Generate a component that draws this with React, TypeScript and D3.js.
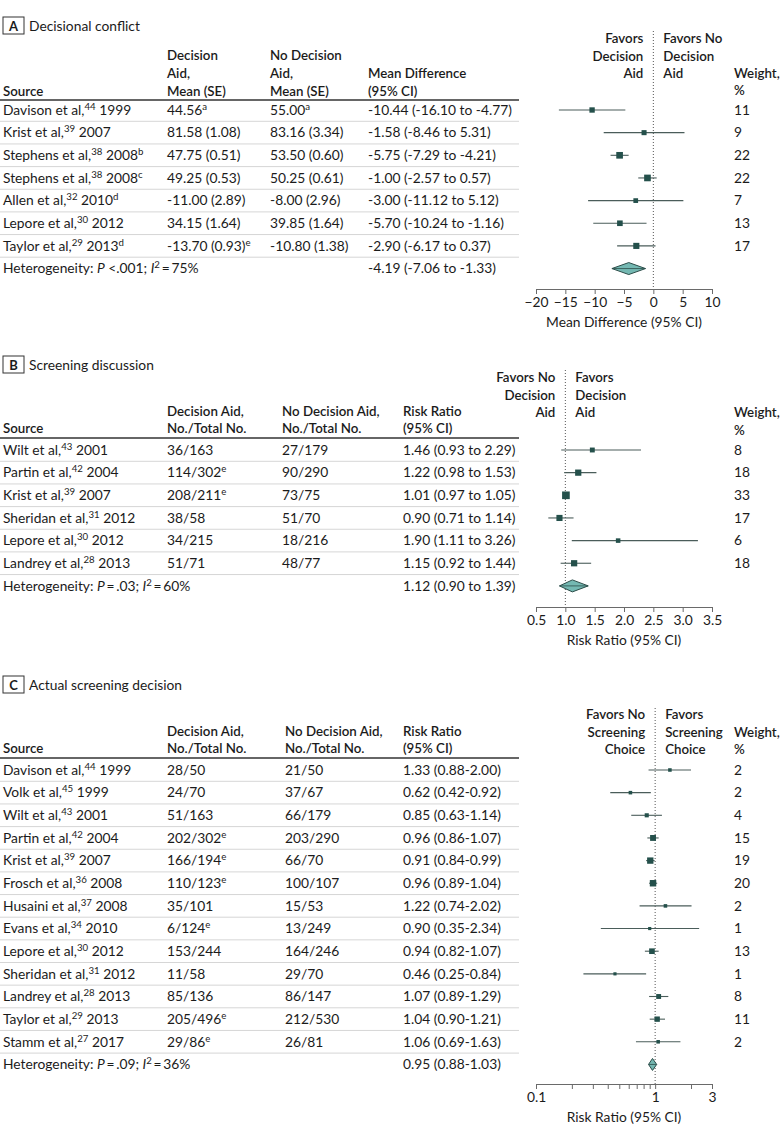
import React, { useEffect, useRef } from "react";
import * as d3 from "d3";

const FONT = "Lato, 'Open Sans', 'DejaVu Sans', sans-serif";
const FS = 13.8;
const HFS = 13.3;
const TEXT = "#1b1b1b";
const MARK = "#24504b";
const CI = "#4a5d5a";
const DIAMOND_FILL = "#74b8b2";
const DIAMOND_STROKE = "#2c4d49";

// ---------- Panel A: Decisional conflict ----------
const srcA = [
  "Davison et al,{44} 1999",
  "Krist et al,{39} 2007",
  "Stephens et al,{38} 2008{b}",
  "Stephens et al,{38} 2008{c}",
  "Allen et al,{32} 2010{d}",
  "Lepore et al,{30} 2012",
  "Taylor et al,{29} 2013{d}",
];
const aidA = ["44.56{a}", "81.58 (1.08)", "47.75 (0.51)", "49.25 (0.53)", "-11.00 (2.89)", "34.15 (1.64)", "-13.70 (0.93){e}"];
const noAidA = ["55.00{a}", "83.16 (3.34)", "53.50 (0.60)", "50.25 (0.61)", "-8.00 (2.96)", "39.85 (1.64)", "-10.80 (1.38)"];
const estA = [-10.44, -1.58, -5.75, -1.0, -3.0, -5.7, -2.9];
const loA = [-16.1, -8.46, -7.29, -2.57, -11.12, -10.24, -6.17];
const hiA = [-4.77, 5.31, -4.21, 0.57, 5.12, -1.16, 0.37];
const wA = [11, 9, 22, 22, 7, 13, 17];
const pooledA = [-4.19, -7.06, -1.33];
const hetA = "Heterogeneity: [P] <.001; [I]{2}\u2009=\u200975%";
const ticksA = [-20, -15, -10, -5, 0, 5, 10];

// ---------- Panel B: Screening discussion ----------
const srcB = [
  "Wilt et al,{43} 2001",
  "Partin et al,{42} 2004",
  "Krist et al,{39} 2007",
  "Sheridan et al,{31} 2012",
  "Lepore et al,{30} 2012",
  "Landrey et al,{28} 2013",
];
const aidB = ["36/163", "114/302{e}", "208/211{e}", "38/58", "34/215", "51/71"];
const noAidB = ["27/179", "90/290", "73/75", "51/70", "18/216", "48/77"];
const estB = [1.46, 1.22, 1.01, 0.9, 1.9, 1.15];
const loB = [0.93, 0.98, 0.97, 0.71, 1.11, 0.92];
const hiB = [2.29, 1.53, 1.05, 1.14, 3.26, 1.44];
const wB = [8, 18, 33, 17, 6, 18];
const pooledB = [1.12, 0.9, 1.39];
const hetB = "Heterogeneity: [P]\u2009=\u2009.03; [I]{2}\u2009=\u200960%";
const ticksB = [0.5, 1.0, 1.5, 2.0, 2.5, 3.0, 3.5];

// ---------- Panel C: Actual screening decision ----------
const srcC = [
  "Davison et al,{44} 1999",
  "Volk et al,{45} 1999",
  "Wilt et al,{43} 2001",
  "Partin et al,{42} 2004",
  "Krist et al,{39} 2007",
  "Frosch et al,{36} 2008",
  "Husaini et al,{37} 2008",
  "Evans et al,{34} 2010",
  "Lepore et al,{30} 2012",
  "Sheridan et al,{31} 2012",
  "Landrey et al,{28} 2013",
  "Taylor et al,{29} 2013",
  "Stamm et al,{27} 2017",
];
const aidC = ["28/50", "24/70", "51/163", "202/302{e}", "166/194{e}", "110/123{e}", "35/101", "6/124{e}", "153/244", "11/58", "85/136", "205/496{e}", "29/86{e}"];
const noAidC = ["21/50", "37/67", "66/179", "203/290", "66/70", "100/107", "15/53", "13/249", "164/246", "29/70", "86/147", "212/530", "26/81"];
const estC = [1.33, 0.62, 0.85, 0.96, 0.91, 0.96, 1.22, 0.9, 0.94, 0.46, 1.07, 1.04, 1.06];
const loC = [0.88, 0.42, 0.63, 0.86, 0.84, 0.89, 0.74, 0.35, 0.82, 0.25, 0.89, 0.9, 0.69];
const hiC = [2.0, 0.92, 1.14, 1.07, 0.99, 1.04, 2.02, 2.34, 1.07, 0.84, 1.29, 1.21, 1.63];
const wC = [2, 2, 4, 15, 19, 20, 2, 1, 13, 1, 8, 11, 2];
const pooledC = [0.95, 0.88, 1.03];
const hetC = "Heterogeneity: [P]\u2009=\u2009.09; [I]{2}\u2009=\u200936%";
const ticksC = [0.1, 1, 3];
const minorTicksC = [0.2, 0.3, 0.4, 0.5, 0.6, 0.7, 0.8, 0.9, 2];

// rich text: {sup} superscript, [ital] italic
function Rich({ s, x, y, anchor = "start", weight = 400, size = FS }: any) {
  const parts = s.split(/(\{[^}]*\}|\[[^\]]*\])/).filter((p: string) => p !== "");
  let raised = false;
  const out: any[] = [];
  parts.forEach((p: string, i: number) => {
    if (p.startsWith("{")) {
      out.push(
        <tspan key={i} fontSize={size * 0.7} dy={raised ? 0 : -5}>
          {p.slice(1, -1)}
        </tspan>
      );
      raised = true;
    } else if (p.startsWith("[")) {
      out.push(
        <tspan key={i} fontStyle="italic" dy={raised ? 5 : 0}>
          {p.slice(1, -1)}
        </tspan>
      );
      raised = false;
    } else {
      out.push(
        <tspan key={i} dy={raised ? 5 : 0}>
          {p}
        </tspan>
      );
      raised = false;
    }
  });
  return (
    <text x={x} y={y} textAnchor={anchor} fontWeight={weight} fontSize={size} fill={TEXT} style={{ whiteSpace: "pre" }}>
      {out}
    </text>
  );
}

function Axis({ scale, y, ticks, fmt, minor, title }: any) {
  const ref = useRef<SVGGElement>(null);
  const ref2 = useRef<SVGGElement>(null);
  useEffect(() => {
    const ax = d3.axisBottom(scale).tickValues(ticks).tickFormat(fmt).tickSize(5).tickPadding(3).tickSizeOuter(0);
    const g = d3.select(ref.current!);
    g.call(ax as any);
    g.selectAll("path,line").attr("stroke", "#6a6a6a");
    g.selectAll("text").attr("font-family", FONT).attr("font-size", FS).attr("fill", TEXT);
    if (minor && ref2.current) {
      const ax2 = d3.axisBottom(scale).tickValues(minor).tickFormat(() => "").tickSize(5).tickSizeOuter(0);
      const g2 = d3.select(ref2.current);
      g2.call(ax2 as any);
      g2.select("path").remove();
      g2.selectAll("line").attr("stroke", "#6a6a6a");
    }
  }, []);
  const [r0, r1] = scale.range();
  return (
    <g>
      <g ref={ref} transform={`translate(0,${y})`} />
      {minor && <g ref={ref2} transform={`translate(0,${y})`} />}
      <text x={(r0 + r1) / 2} y={y + 38} textAnchor="middle" fontSize={FS} fill={TEXT}>
        {title}
      </text>
    </g>
  );
}

function Panel(p: any) {
  const n = p.src.length;
  const yRow = d3.scaleLinear().domain([0, 1]).range([p.rowStart, p.rowStart + 22.65]);
  const size = (w: number) => 2.2 + 0.95 * Math.sqrt(w);
  const xs = p.x;
  const base = 4.8;
  const pool = p.pooled;
  const yp = yRow(n);
  return (
    <g>
      {/* title */}
      <rect x={3} y={p.titleY - 9} width={21} height={17} fill="none" stroke="#333" strokeWidth={1} />
      <text x={13.5} y={p.titleY + 4.5} textAnchor="middle" fontWeight={700} fontSize={13} fill={TEXT}>
        {p.letter}
      </text>
      <text x={29} y={p.titleY + 5} fontSize={13.8} fill={TEXT}>
        {p.title}
      </text>
      {/* header */}
      {p.headers.map((h: any, i: number) =>
        h.lines.map((l: string, j: number) => (
          <text key={`${i}-${j}`} x={h.x} y={h.ys[j] + base} textAnchor={h.anchor || "start"} fontWeight={600} fontSize={HFS} fill={TEXT}>
            {l}
          </text>
        ))
      )}
      <line x1={0} x2={519} y1={p.headerLineY} y2={p.headerLineY} stroke="#333" strokeWidth={1.6} />
      {/* separators */}
      {d3.range(n).map((i) => (
        <line key={i} x1={0} x2={519} y1={yRow(i) + 11.3} y2={yRow(i) + 11.3} stroke="#d6d6d6" strokeWidth={1} />
      ))}
      {/* rows */}
      {p.src.map((s: string, i: number) => (
        <g key={i}>
          <Rich s={s} x={3} y={yRow(i) + base} />
          <Rich s={p.aid[i]} x={p.cols[0]} y={yRow(i) + base} />
          <Rich s={p.noAid[i]} x={p.cols[1]} y={yRow(i) + base} />
          <Rich s={p.fmt(p.est[i], p.lo[i], p.hi[i])} x={p.cols[2]} y={yRow(i) + base} />
          <text x={734} y={yRow(i) + base} fontSize={FS} fill={TEXT}>
            {p.w[i]}
          </text>
        </g>
      ))}
      <Rich s={p.het} x={3} y={yp + base} />
      <Rich s={p.fmt(pool[0], pool[1], pool[2])} x={p.cols[2]} y={yp + base} />
      {/* reference line */}
      <line x1={xs(p.ref)} x2={xs(p.ref)} y1={p.refTop} y2={p.axisY} stroke="#555" strokeWidth={1} strokeDasharray="1,2" />
      {/* favors */}
      {p.favL.map((l: string, j: number) => (
        <text key={`l${j}`} x={xs(p.ref) - 10} y={p.favY[j] + base} textAnchor="end" fontWeight={600} fontSize={HFS} fill={TEXT}>
          {l}
        </text>
      ))}
      {p.favR.map((l: string, j: number) => (
        <text key={`r${j}`} x={xs(p.ref) + 10} y={p.favY[j] + base} fontWeight={600} fontSize={HFS} fill={TEXT}>
          {l}
        </text>
      ))}
      {/* CIs and markers */}
      {p.src.map((_: string, i: number) => {
        const s = size(p.w[i]);
        return (
          <g key={i}>
            <line x1={xs(p.lo[i])} x2={xs(p.hi[i])} y1={yRow(i)} y2={yRow(i)} stroke={CI} strokeWidth={1.1} />
            <rect x={xs(p.est[i]) - s / 2} y={yRow(i) - s / 2} width={s} height={s} fill={MARK} />
          </g>
        );
      })}
      {/* diamond */}
      <path
        d={`M${xs(pool[1])},${yp} L${xs(pool[0])},${yp - 6} L${xs(pool[2])},${yp} L${xs(pool[0])},${yp + 6} Z`}
        fill={DIAMOND_FILL}
        stroke={DIAMOND_STROKE}
        strokeWidth={1}
      />
      <line x1={xs(pool[1])} x2={xs(pool[2])} y1={yp} y2={yp} stroke={DIAMOND_STROKE} strokeWidth={0.8} />
      <Axis scale={xs} y={p.axisY} ticks={p.ticks} fmt={p.tickFmt} minor={p.minor} title={p.axisTitle} />
    </g>
  );
}

export default function App() {
  const xA = d3.scaleLinear().domain([-20, 10]).range([536, 712]);
  const xB = d3.scaleLinear().domain([0.5, 3.5]).range([536, 712]);
  const xC = d3.scaleLog().domain([0.1, 3]).range([536, 712]);
  const f2 = (v: number) => v.toFixed(2);
  const fmtTo = (e: number, l: number, h: number) => `${f2(e)} (${f2(l)} to ${f2(h)})`;
  const fmtDash = (e: number, l: number, h: number) => `${f2(e)} (${f2(l)}-${f2(h)})`;

  return (
    <svg
      width={780}
      height={1135}
      style={{ position: "absolute", left: 0, top: 0, background: "#fff" }}
      fontFamily={FONT}
    >
      <rect width={780} height={1135} fill="#fff" />
      <Panel
        letter="A"
        title="Decisional conflict"
        titleY={26}
        headers={[
          { x: 3, lines: ["Source"], ys: [91] },
          { x: 167, lines: ["Decision", "Aid,", "Mean (SE)"], ys: [55, 73, 91] },
          { x: 270, lines: ["No Decision", "Aid,", "Mean (SE)"], ys: [55, 73, 91] },
          { x: 368, lines: ["Mean Difference", "(95% CI)"], ys: [73, 91] },
          { x: 734, lines: ["Weight,", "%"], ys: [73, 90] },
        ]}
        headerLineY={100}
        rowStart={110}
        src={srcA}
        aid={aidA}
        noAid={noAidA}
        est={estA}
        lo={loA}
        hi={hiA}
        w={wA}
        pooled={pooledA}
        het={hetA}
        cols={[167, 270, 368]}
        fmt={fmtTo}
        x={xA}
        ref={0}
        refTop={31}
        favL={["Favors", "Decision", "Aid"]}
        favR={["Favors No", "Decision", "Aid"]}
        favY={[38, 56, 73]}
        axisY={289}
        ticks={ticksA}
        tickFmt={d3.format("d")}
        axisTitle="Mean Difference (95% CI)"
      />
      <Panel
        letter="B"
        title="Screening discussion"
        titleY={365}
        headers={[
          { x: 3, lines: ["Source"], ys: [428] },
          { x: 167, lines: ["Decision Aid,", "No./Total No."], ys: [411, 428] },
          { x: 282, lines: ["No Decision Aid,", "No./Total No."], ys: [411, 428] },
          { x: 403, lines: ["Risk Ratio", "(95% CI)"], ys: [411, 428] },
          { x: 734, lines: ["Weight,", "%"], ys: [412, 430] },
        ]}
        headerLineY={438}
        rowStart={450}
        src={srcB}
        aid={aidB}
        noAid={noAidB}
        est={estB}
        lo={loB}
        hi={hiB}
        w={wB}
        pooled={pooledB}
        het={hetB}
        cols={[167, 282, 403]}
        fmt={fmtTo}
        x={xB}
        ref={1}
        refTop={370}
        favL={["Favors No", "Decision", "Aid"]}
        favR={["Favors", "Decision", "Aid"]}
        favY={[377, 395, 412]}
        axisY={607}
        ticks={ticksB}
        tickFmt={d3.format(".1f")}
        axisTitle="Risk Ratio (95% CI)"
      />
      <Panel
        letter="C"
        title="Actual screening decision"
        titleY={685}
        headers={[
          { x: 3, lines: ["Source"], ys: [748] },
          { x: 167, lines: ["Decision Aid,", "No./Total No."], ys: [731, 748] },
          { x: 285, lines: ["No Decision Aid,", "No./Total No."], ys: [731, 748] },
          { x: 403, lines: ["Risk Ratio", "(95% CI)"], ys: [731, 748] },
          { x: 734, lines: ["Weight,", "%"], ys: [732, 749] },
        ]}
        headerLineY={758}
        rowStart={770}
        src={srcC}
        aid={aidC}
        noAid={noAidC}
        est={estC}
        lo={loC}
        hi={hiC}
        w={wC}
        pooled={pooledC}
        het={hetC}
        cols={[167, 285, 403]}
        fmt={fmtDash}
        x={xC}
        ref={1}
        refTop={708}
        favL={["Favors No", "Screening", "Choice"]}
        favR={["Favors", "Screening", "Choice"]}
        favY={[714, 732, 749]}
        axisY={1084}
        ticks={ticksC}
        tickFmt={(d: number) => String(d)}
        minor={minorTicksC}
        axisTitle="Risk Ratio (95% CI)"
      />
    </svg>
  );
}
